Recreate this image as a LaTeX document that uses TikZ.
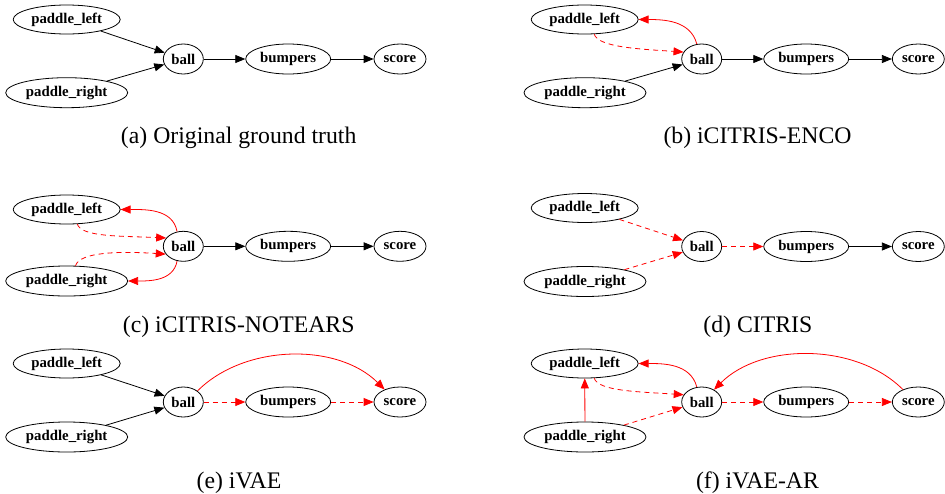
\documentclass[tikz,border=0pt]{standalone}
\usepackage{fontspec}
\setmainfont{Liberation Serif}
\usetikzlibrary{shapes.geometric,arrows.meta}
\begin{document}
\begin{tikzpicture}[x=1pt,y=-1pt,
  nd/.style={ellipse,draw,line width=0.8pt,inner sep=0pt,minimum height=30pt,
    font=\fontsize{14.8}{16}\selectfont\bfseries},
  plnode/.style={nd,minimum width=107pt,minimum height=29pt},
  prnode/.style={nd,minimum width=122pt},
  blnode/.style={nd,minimum width=40pt},
  bunode/.style={nd,minimum width=85pt},
  scnode/.style={nd,minimum width=52pt},
  captext/.style={font=\fontsize{23.75}{26}\selectfont,anchor=base},
  edge/.style={line width=0.8pt,-{Triangle[length=10pt,width=8pt]}},
  blk/.style={edge,black},
  rs/.style={edge,color=red},
  rd/.style={edge,color=red,dash pattern=on 5pt off 4pt}
]
\path[use as bounding box] (0,0) rectangle (945,493);

% ---------- (a) ----------
\node[plnode] (a-pl) at (66.7,19.5) {paddle\_left};
\node[prnode] (a-pr) at (66.7,92.7) {paddle\_right};
\node[blnode] (a-ball) at (183.3,59) {ball};
\node[bunode] (a-bu) at (288.2,59) {bumpers};
\node[scnode] (a-sc) at (400,59) {score};
\node[captext] (a-cap) at (238.7,143.5) {(a) Original ground truth};
\draw[blk] (a-pl) -- (a-ball);
\draw[blk] (a-pr) -- (a-ball);
\draw[blk] (a-ball) -- (a-bu);
\draw[blk] (a-bu) -- (a-sc);

% ---------- (b) ----------
\node[plnode] (b-pl) at (584.7,19.5) {paddle\_left};
\node[prnode] (b-pr) at (585,92.7) {paddle\_right};
\node[blnode] (b-ball) at (701.7,59) {ball};
\node[bunode] (b-bu) at (806.2,59) {bumpers};
\node[scnode] (b-sc) at (918.3,59) {score};
\node[captext] (b-cap) at (757.5,143.5) {(b) iCITRIS-ENCO};
\draw[rs] (b-ball.108) to[out=105,in=0] (b-pl.east);
\draw[rd] (b-pl.-57) .. controls +(4,13) and +(-45,-3) .. (b-ball.159);
\draw[blk] (b-pr) -- (b-ball);
\draw[blk] (b-ball) -- (b-bu);
\draw[blk] (b-bu) -- (b-sc);

% ---------- (c) ----------
\node[plnode] (c-pl) at (66.7,209.5) {paddle\_left};
\node[prnode] (c-pr) at (66.7,281) {paddle\_right};
\node[blnode] (c-ball) at (183.3,246.3) {ball};
\node[bunode] (c-bu) at (288.2,246.3) {bumpers};
\node[scnode] (c-sc) at (400,246.3) {score};
\node[captext] (c-cap) at (238.7,332) {(c) iCITRIS-NOTEARS};
\draw[rs] (c-ball.113) to[out=100,in=0] (c-pl.east);
\draw[rs] (c-ball.-113) to[out=-100,in=0] (c-pr.east);
\draw[rd] (c-pl.-54) .. controls +(4,13) and +(-45,-2) .. (c-ball.154);
\draw[rd] (c-pr.60) .. controls +(4,-14) and +(-45,-3) .. (c-ball.204);
\draw[blk] (c-ball) -- (c-bu);
\draw[blk] (c-bu) -- (c-sc);

% ---------- (d) ----------
\node[plnode] (d-pl) at (584.7,208) {paddle\_left};
\node[prnode] (d-pr) at (585,281.5) {paddle\_right};
\node[blnode] (d-ball) at (701.7,246.5) {ball};
\node[bunode] (d-bu) at (806.2,246.5) {bumpers};
\node[scnode] (d-sc) at (918.3,246.5) {score};
\node[captext] (d-cap) at (757.8,332.5) {(d) CITRIS};
\draw[rd] (d-pl) -- (d-ball);
\draw[rd] (d-pr) -- (d-ball);
\draw[rd] (d-ball) -- (d-bu);
\draw[blk] (d-bu) -- (d-sc);

% ---------- (e) ----------
\node[plnode] (e-pl) at (66.7,363.5) {paddle\_left};
\node[prnode] (e-pr) at (66.7,437) {paddle\_right};
\node[blnode] (e-ball) at (183.3,402) {ball};
\node[bunode] (e-bu) at (288.2,402) {bumpers};
\node[scnode] (e-sc) at (400,402) {score};
\node[captext] (e-cap) at (239,488) {(e) iVAE};
\draw[blk] (e-pl) -- (e-ball);
\draw[blk] (e-pr) -- (e-ball);
\draw[rd] (e-ball) -- (e-bu);
\draw[rd] (e-bu) -- (e-sc);
\draw[rs] (e-ball.38) .. controls +(47,-47) and +(-47,-47) .. (e-sc.141);

% ---------- (f) ----------
\node[plnode] (f-pl) at (584.7,363.5) {paddle\_left};
\node[prnode] (f-pr) at (585,437) {paddle\_right};
\node[blnode] (f-ball) at (701.7,402) {ball};
\node[bunode] (f-bu) at (806.2,402) {bumpers};
\node[scnode] (f-sc) at (918.3,402) {score};
\node[captext] (f-cap) at (757.5,488) {(f) iVAE-AR};
\draw[rs] (f-pr) -- (f-pl);
\draw[rs] (f-ball.108) to[out=105,in=0] (f-pl.east);
\draw[rd] (f-pl.-57) .. controls +(4,13) and +(-45,-3) .. (f-ball.158);
\draw[rd] (f-pr.17) -- (f-ball.195);
\draw[rd] (f-ball) -- (f-bu);
\draw[rd] (f-bu) -- (f-sc);
\draw[rs] (f-sc.141) .. controls +(-47,-47) and +(47,-47) .. (f-ball.45);
\end{tikzpicture}
\end{document}
